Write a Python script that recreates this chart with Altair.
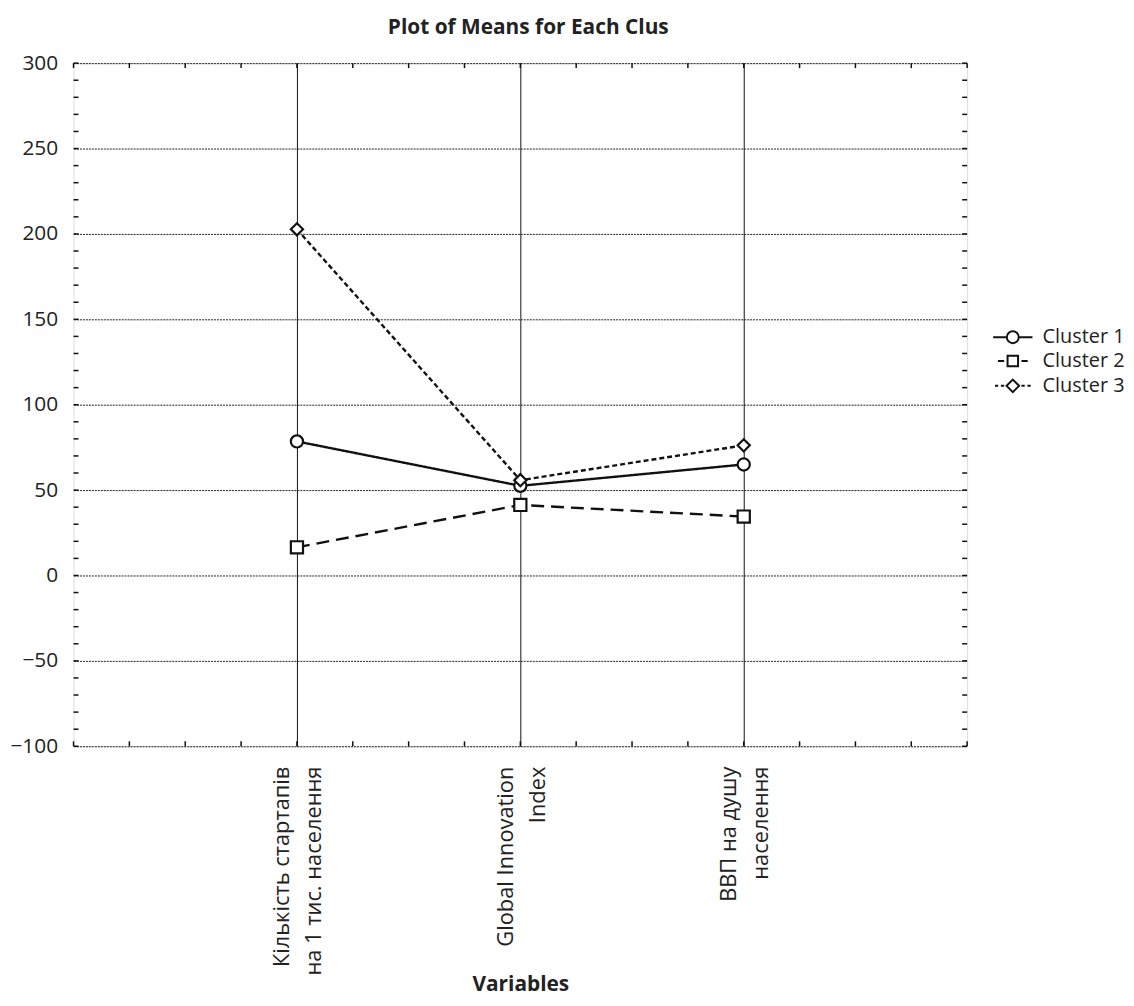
import json
import altair as alt
import pandas as pd

# ---- data ----
variables = ["Кількість стартапів\nна 1 тис. населення",
             "Global Innovation\nIndex",
             "ВВП на душу\nнаселення"]
var_pos = [1, 2, 3]
clusters = ["Cluster 1", "Cluster 2", "Cluster 3"]
cluster1 = [78.5, 52.5, 65.0]
cluster2 = [16.5, 41.3, 34.5]
cluster3 = [202.7, 55.8, 76.2]

y_major = [-100, -50, 0, 50, 100, 150, 200, 250, 300]
y_minor = list(range(-100, 301, 10))
x_minor = [i * 0.25 for i in range(17)]

rows = []
for name, vals in zip(clusters, [cluster1, cluster2, cluster3]):
    for p, v in zip(var_pos, vals):
        rows.append({"Cluster": name, "LegendKey": name, "pos": p, "value": v})
df = pd.DataFrame(rows)
ytick_df = pd.DataFrame({"v": y_minor})
xtick_df = pd.DataFrame({"v": x_minor})

W, H = 900, 688
INK = "#111111"
FONT = "Open Sans"

label_lines = [v.split("\n") for v in variables]
label_expr = json.dumps(label_lines, ensure_ascii=False) + "[datum.value - 1]"

xscale = alt.Scale(domain=[0, 4], nice=False, zero=False)
yscale = alt.Scale(domain=[-100, 300], nice=False, zero=False)

x_axis = alt.Axis(values=var_pos, labelExpr=label_expr, labelAngle=-90,
                  labelAlign="right", labelBaseline="middle", labelLineHeight=32,
                  labelOffset=-15, labelPadding=20, labelLimit=0,
                  labelFont=FONT, labelFontSize=22, labelColor="#222",
                  labelOverlap=False, labelFlush=False,
                  ticks=False, tickSize=0, domain=False,
                  grid=True, gridColor=INK, gridWidth=1,
                  title="Variables", titleFont=FONT, titleFontSize=21,
                  titleFontWeight="bold", titleColor="#222",
                  titleX=W / 2, titleY=246, titleBaseline="alphabetic", titleAlign="center")
y_axis = alt.Axis(values=y_major, grid=True, gridColor="#222", gridDash=[2, 1], gridWidth=1,
                  ticks=False, tickSize=0, domain=False, labelPadding=16,
                  labelFont=FONT, labelFontSize=21, labelColor="#222", title=None)

base = alt.Chart(df)

lines = base.mark_line(color=INK, strokeWidth=2.4).encode(
    x=alt.X("pos:Q", scale=xscale, axis=x_axis),
    y=alt.Y("value:Q", scale=yscale, axis=y_axis),
    strokeDash=alt.StrokeDash("Cluster:N", scale=alt.Scale(domain=clusters,
                              range=[[1, 0], [13, 7], [5, 3]]), legend=None),
    detail="Cluster:N",
)

points = base.mark_point(filled=True, fill="white", stroke=INK, strokeWidth=2.2, size=150,
                         opacity=1).encode(
    x=alt.X("pos:Q", scale=xscale),
    y=alt.Y("value:Q", scale=yscale),
    shape=alt.Shape("Cluster:N", scale=alt.Scale(domain=clusters,
                    range=["circle", "square", "diamond"]), legend=None),
)

leg_paths = [
    "M1,0A1,1,0,1,1,-1,0A1,1,0,1,1,1,0ZM-3.3,0L-1,0M1,0L3.3,0",
    "M-0.88,-0.88L0.88,-0.88L0.88,0.88L-0.88,0.88ZM-2.5,0L-1.45,0M1.45,0L2.5,0",
    "M0,-1.05L1.05,0L0,1.05L-1.05,0ZM-3,0L-2.45,0M-2,0L-1.45,0M1.45,0L2,0M2.45,0L3,0",
]
legend_layer = base.mark_point(color=INK, opacity=0, strokeWidth=2).encode(
    x=alt.X("pos:Q", scale=xscale),
    y=alt.Y("value:Q", scale=yscale),
    shape=alt.Shape("LegendKey:N", scale=alt.Scale(domain=clusters, range=leg_paths),
                    legend=alt.Legend(title=None, orient="none", legendX=936, legendY=266,
                                      padding=0, symbolSize=144, symbolStrokeWidth=2,
                                      symbolStrokeColor=INK, symbolOpacity=1,
                                      labelFont=FONT, labelFontSize=20, labelColor="#222",
                                      labelOffset=20, rowPadding=4)),
)

tick_style = dict(color=INK, strokeWidth=1.5)
left_ticks = alt.Chart(ytick_df).mark_rule(**tick_style).encode(
    y=alt.Y("v:Q", scale=yscale), x=alt.value(0), x2=alt.value(5))
right_ticks = alt.Chart(ytick_df).mark_rule(**tick_style).encode(
    y=alt.Y("v:Q", scale=yscale), x=alt.value(W), x2=alt.value(W - 5))
bottom_ticks = alt.Chart(xtick_df).mark_rule(**tick_style).encode(
    x=alt.X("v:Q", scale=xscale), y=alt.value(H), y2=alt.value(H - 5))
top_ticks = alt.Chart(xtick_df).mark_rule(**tick_style).encode(
    x=alt.X("v:Q", scale=xscale), y=alt.value(0), y2=alt.value(5))

chart = alt.layer(
    left_ticks, right_ticks, bottom_ticks, top_ticks, lines, points, legend_layer
).resolve_scale(shape="independent").properties(
    width=W, height=H,
    title=alt.TitleParams(text="Plot of Means for Each Clus", frame="group", anchor="middle",
                          dx=8, dy=30, baseline="alphabetic", offset=27, font=FONT, fontSize=21,
                          fontWeight="bold", color="#222"),
    padding={"left": 66, "top": 52, "right": 160, "bottom": 250},
    autosize=alt.AutoSizeParams(type="none"),
).configure_view(stroke=INK, strokeWidth=2.4).configure(background="white")

chart.save("out.html", embed_options={"renderer": "svg", "actions": False})
